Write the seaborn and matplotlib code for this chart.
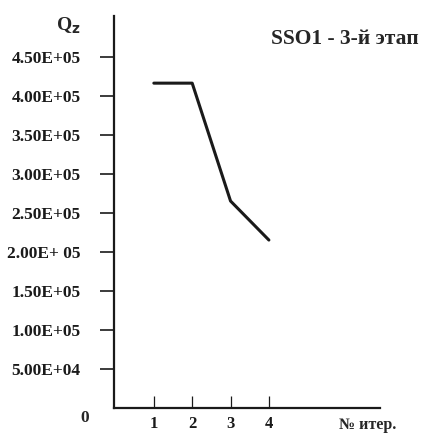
import matplotlib
matplotlib.use('Agg')
import matplotlib.pyplot as plt
import seaborn as sns
import pandas as pd

# Данные с графика
iterations = [1, 2, 3, 4]
qz_values = [416000, 416000, 265000, 215000]
y_ticks = [50000, 100000, 150000, 200000, 250000, 300000, 350000, 400000, 450000]
y_tick_labels = ['5.00E+04', '1.00E+05', '1.50E+05', '2.00E+ 05', '2.50E+05',
                 '3.00E+05', '3.50E+05', '4.00E+05', '4.50E+05']
x_ticks = [1, 2, 3, 4]
title_text = 'SSO1 - 3-й этап'

sns.set_style('white')
plt.rcParams['font.family'] = ['Liberation Serif', 'DejaVu Serif']
plt.rcParams['font.weight'] = 'bold'

df = pd.DataFrame({'iter': iterations, 'qz': qz_values})

fig = plt.figure(figsize=(4.3, 4.33), dpi=100)
ax = fig.add_axes([0.265, 0.058, 0.619, 0.905])

sns.lineplot(data=df, x='iter', y='qz', color='#1a1a1a', linewidth=2.2, ax=ax)

ax.set_xlim(-0.04, 6.9)
ax.set_ylim(0, 502000)

ax.set_yticks(y_ticks)
ax.set_yticklabels(y_tick_labels, fontsize=12.5, fontweight='bold')
ax.set_xticks(x_ticks)
ax.set_xticklabels([str(t) for t in x_ticks], fontsize=12, fontweight='bold')

ax.tick_params(axis='y', direction='out', length=10, width=1.2, pad=14, colors='#1a1a1a', left=True)
ax.tick_params(axis='x', direction='in', length=9, width=0.9, pad=6, colors='#1a1a1a', bottom=True)

for side in ['top', 'right']:
    ax.spines[side].set_visible(False)
for side in ['left', 'bottom']:
    ax.spines[side].set_linewidth(1.6)
    ax.spines[side].set_color('#1a1a1a')

ax.set_xlabel('')
ax.set_ylabel('')

# Подписи
fig.text(0.198, 0.035, '0', fontsize=12.5, fontweight='bold', ha='center', va='center')
fig.text(0.855, 0.018, '№ итер.', fontsize=11.5, fontweight='bold', ha='center', va='center')
fig.text(0.158, 0.94, r'Q$_\mathbf{z}$', fontsize=14, fontweight='bold', ha='center', va='center')
fig.text(0.802, 0.91, title_text, fontsize=15.5, fontweight='bold', ha='center', va='center')

fig.savefig('out.png', dpi=100)
